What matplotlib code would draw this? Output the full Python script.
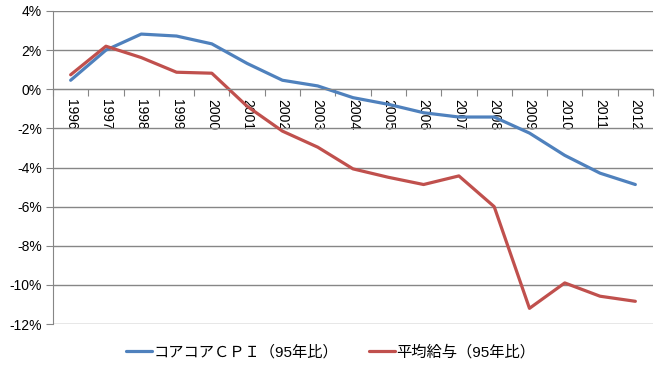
import matplotlib
matplotlib.use("Agg")
import matplotlib.pyplot as plt
import matplotlib.ticker as mticker

plt.rcParams['font.family'] = ['Liberation Sans', 'Noto Sans CJK JP', 'DejaVu Sans']

years = [str(y) for y in range(1996, 2013)]
core_cpi = [0.46, 2.0, 2.82, 2.72, 2.32, 1.32, 0.46, 0.17, -0.43, -0.77, -1.2, -1.42, -1.42,
            -2.24, -3.38, -4.29, -4.87]
avg_wage = [0.74, 2.2, 1.62, 0.87, 0.82, -0.87, -2.14, -2.96, -4.07, -4.5, -4.87, -4.43, -6.0,
            -11.2, -9.9, -10.58, -10.84]
series_names = ['コアコアＣＰＩ（95年比）', '平均給与（95年比）']
colors = ['#4F81BD', '#C0504D']

fig = plt.figure(figsize=(6.62, 3.67), dpi=100)
ax = fig.add_axes([53/662, 1-324/367, 600/662, 313/367])

xs = [i + 0.5 for i in range(len(years))]
ax.plot(xs, core_cpi, color=colors[0], lw=2.3, label=series_names[0], solid_capstyle='round')
ax.plot(xs, avg_wage, color=colors[1], lw=2.3, label=series_names[1], solid_capstyle='round')

ax.set_xlim(0, len(years))
ax.set_ylim(-12, 4)
ax.set_yticks(range(-12, 5, 2))
ax.yaxis.set_major_formatter(mticker.FuncFormatter(lambda v, p: f"{int(v)}%"))
ax.yaxis.grid(True, color='#868686', lw=1)
ax.set_axisbelow(True)

for s in ['top', 'right']:
    ax.spines[s].set_visible(False)
ax.spines['left'].set_color('#868686')
ax.spines['bottom'].set_position(('data', 0))
ax.spines['bottom'].set_color('#868686')

ax.set_xticks(range(0, len(years) + 1))
ax.set_xticklabels([])
ax.set_xticks(xs, minor=True)
ax.set_xticklabels(years, minor=True, rotation=-90, va='top', ha='center')
ax.tick_params(axis='x', which='major', length=5, color='#868686', direction='out')
ax.tick_params(axis='x', which='minor', length=0, pad=7, labelsize=10)
ax.tick_params(axis='y', length=5, color='#868686', labelsize=10, pad=3)

fig.legend(loc='center', bbox_to_anchor=(0.5, 1-352/367), ncol=2, frameon=False,
           fontsize=11, handlelength=1.7, handletextpad=0.1, columnspacing=2.0)

fig.savefig('out.png', dpi=100)
